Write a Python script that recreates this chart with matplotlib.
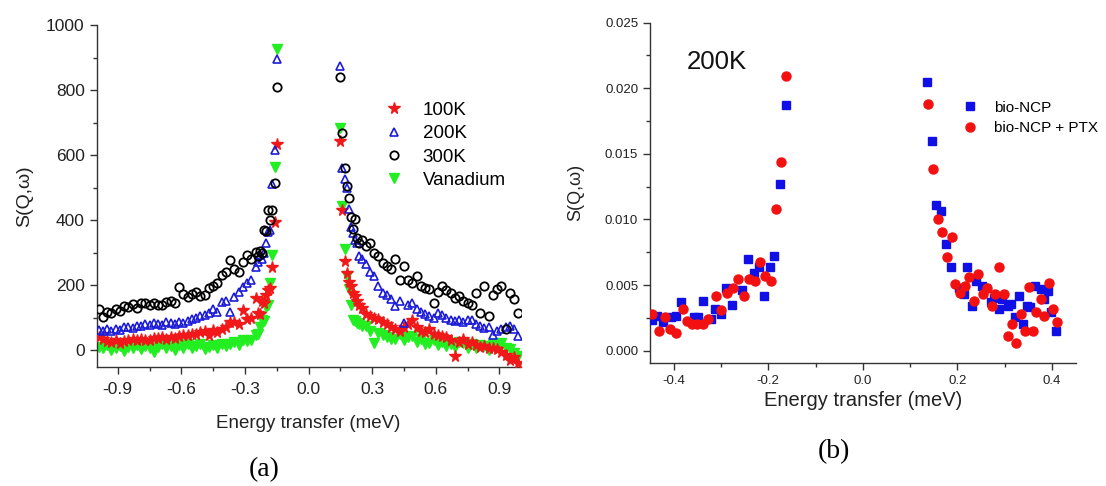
import matplotlib
matplotlib.use("Agg")
import matplotlib.pyplot as plt
from matplotlib.ticker import MultipleLocator, FormatStrFormatter

plt.rcParams['font.family'] = ['Liberation Sans', 'DejaVu Sans']

# ---------------- Panel (a) data ----------------
E_left = [-0.99, -0.97, -0.95, -0.93, -0.91, -0.89, -0.87, -0.85, -0.83, -0.81,
          -0.79, -0.77, -0.75, -0.73, -0.71, -0.69, -0.67, -0.65, -0.63, -0.61,
          -0.59, -0.57, -0.55, -0.53, -0.51, -0.49, -0.47, -0.45, -0.43, -0.41,
          -0.39, -0.37, -0.35, -0.33, -0.31, -0.29, -0.27, -0.25,
          -0.24, -0.23, -0.22, -0.21, -0.20, -0.19, -0.18, -0.17, -0.16, -0.15]
E_right = [0.15, 0.16, 0.17, 0.18, 0.19, 0.20, 0.21, 0.22, 0.23, 0.24,
           0.25, 0.27, 0.29, 0.31, 0.33, 0.35, 0.37, 0.39, 0.41, 0.43,
           0.45, 0.47, 0.49, 0.51, 0.53, 0.55, 0.57, 0.59, 0.61, 0.63,
           0.65, 0.67, 0.69, 0.71, 0.73, 0.75, 0.77, 0.79, 0.81, 0.83,
           0.85, 0.87, 0.89, 0.91, 0.93, 0.95, 0.97, 0.99]

s100_left = [41, 35, 28, 25, 30, 22, 28, 31, 35, 30,
             34, 30, 32, 36, 38, 41, 35, 40, 38, 42,
             45, 48, 50, 51, 55, 58, 45, 62, 55, 65,
             72, 87, 85, 80, 123, 95, 100, 160,
             113, 110, 150, 145, 170, 185, 190, 256, 395, 635]
s100_right = [643, 430, 274, 238, 210, 197, 176, 165, 150, 140,
              130, 110, 105, 99, 95, 85, 79, 70, 64, 60,
              70, 80, 94, 70, 60, 55, 64, 50, 45, 43,
              40, 30, -18, 25, 33, 20, 25, 15, 10, 12,
              5, 8, 2, -5, -15, -29, -20, -39]

s200_left = [62, 60, 65, 58, 66, 63, 70, 72, 68, 75,
             74, 80, 78, 84, 80, 77, 86, 82, 80, 85,
             82, 90, 95, 100, 105, 108, 115, 125, 118, 149,
             150, 118, 164, 180, 195, 205, 215, 255,
             272, 292, 280, 300, 330, 362, 370, 510, 615, 895]
s200_right = [874, 560, 525, 500, 433, 380, 361, 340, 330, 290,
              280, 264, 240, 228, 197, 176, 170, 156, 135, 150,
              84, 140, 146, 125, 118, 110, 105, 100, 115, 108,
              100, 94, 90, 94, 85, 94, 94, 80, 75, 69,
              72, 48, 60, 64, 70, 74, 65, 43]

s300_left = [128, 103, 118, 113, 125, 120, 135, 133, 142, 130,
             145, 144, 140, 146, 138, 138, 148, 150, 144, 193,
             172, 164, 174, 178, 165, 169, 190, 198, 205, 231,
             240, 277, 250, 241, 272, 292, 280, 302,
             290, 305, 300, 370, 365, 430, 400, 430, 515, 810]
s300_right = [840, 668, 560, 505, 468, 410, 372, 402, 346, 330,
              340, 320, 330, 300, 290, 269, 260, 248, 279, 217,
              258, 215, 207, 228, 197, 190, 187, 146, 180, 197,
              185, 176, 160, 166, 150, 146, 140, 176, 115, 197,
              105, 170, 187, 197, 64, 176, 156, 115]

van_left = [10, 5, 15, 0, 8, 12, -3, 10, 5, 15,
            2, 12, 8, -5, 10, 18, 6, 12, 0, 15,
            8, 20, 5, 12, 18, 3, 10, 15, 8, 20,
            12, 18, 25, 15, 30, 28, 31, 45,
            51, 70, 92, 90, 133, 140, 205, 292, 564, 925]
van_right = [684, 443, 310, 228, 187, 140, 94, 90, 84, 80,
             75, 74, 60, 23, 53, 45, 40, 35, 33, 50,
             30, 40, 43, 25, 35, 20, 23, 30, 15, 25,
             12, 20, 10, 25, 23, 8, 18, 5, 15, 12,
             0, 20, 10, 23, 5, 2, -10, -18]

labels_a = ["100K", "200K", "300K", "Vanadium"]

# ---------------- Panel (b) data ----------------
ncp_E = [-0.445, -0.435, -0.422, -0.406, -0.396, -0.385, -0.358, -0.349, -0.337, -0.321,
         -0.313, -0.300, -0.290, -0.277, -0.256, -0.243, -0.231, -0.219, -0.209, -0.197,
         -0.187, -0.175, -0.162,
         0.136, 0.147, 0.155, 0.166, 0.175, 0.186, 0.203, 0.214, 0.221, 0.231,
         0.240, 0.251, 0.260, 0.271, 0.277, 0.288, 0.295, 0.306, 0.313, 0.321,
         0.330, 0.339, 0.347, 0.354, 0.365, 0.376, 0.383, 0.391, 0.398, 0.408]
ncp_S = [0.00234, 0.00266, 0.00223, 0.00259, 0.00266, 0.00368, 0.00254, 0.00254, 0.00376, 0.00241,
         0.00317, 0.00279, 0.00477, 0.00350, 0.00462, 0.00698, 0.00596, 0.00635, 0.00419, 0.00635,
         0.00723, 0.01274, 0.01870,
         0.02048, 0.01599, 0.01112, 0.01066, 0.00817, 0.00642, 0.00482, 0.00431, 0.00635, 0.00343,
         0.00533, 0.00495, 0.00482, 0.00368, 0.00406, 0.00317, 0.00393, 0.00343, 0.00355, 0.00254,
         0.00419, 0.00203, 0.00343, 0.00330, 0.00495, 0.00470, 0.00393, 0.00457, 0.00292, 0.00152]

ptx_E = [-0.445, -0.431, -0.418, -0.407, -0.395, -0.381, -0.372, -0.361, -0.350, -0.339,
         -0.328, -0.310, -0.299, -0.288, -0.275, -0.263, -0.251, -0.241, -0.229, -0.218,
         -0.206, -0.195, -0.184, -0.173, -0.162,
         0.138, 0.149, 0.159, 0.168, 0.177, 0.188, 0.195, 0.206, 0.216, 0.225,
         0.234, 0.243, 0.253, 0.262, 0.273, 0.280, 0.288, 0.299, 0.306, 0.315,
         0.324, 0.334, 0.343, 0.352, 0.359, 0.367, 0.376, 0.383, 0.393, 0.402, 0.411]
ptx_S = [0.00279, 0.00152, 0.00259, 0.00165, 0.00132, 0.00317, 0.00228, 0.00203, 0.00203, 0.00208,
         0.00241, 0.00419, 0.00310, 0.00444, 0.00477, 0.00546, 0.00419, 0.00546, 0.00528, 0.00673,
         0.00571, 0.00533, 0.01079, 0.01434, 0.02094,
         0.01878, 0.01383, 0.01003, 0.00901, 0.00711, 0.00863, 0.00508, 0.00444, 0.00495, 0.00563,
         0.00381, 0.00584, 0.00431, 0.00482, 0.00343, 0.00431, 0.00635, 0.00431, 0.00114, 0.00203,
         0.00063, 0.00279, 0.00152, 0.00487, 0.00152, 0.00292, 0.00393, 0.00266, 0.00513, 0.00317, 0.00216]

labels_b = ["bio-NCP", "bio-NCP + PTX"]

# ---------------- Figure ----------------
W, H = 1106, 486
fig = plt.figure(figsize=(W / 100, H / 100), dpi=100)
fig.patch.set_facecolor('white')

axc = '#333333'

def style_axes(ax, fs):
    for s in ['top', 'right']:
        ax.spines[s].set_visible(False)
    for s in ['left', 'bottom']:
        ax.spines[s].set_color(axc)
        ax.spines[s].set_linewidth(1.0)
    ax.tick_params(which='both', direction='out', colors=axc, labelcolor='#222222',
                   labelsize=fs, width=1.0)
    ax.tick_params(which='major', length=5)
    ax.tick_params(which='minor', length=3)

# Panel (a)
ax1 = fig.add_axes([96.5 / W, 1 - 366.7 / H, 424 / W, (366.7 - 25) / H])
E_all = E_left + E_right
c_red, c_blue, c_green = '#f01818', '#1c1cd8', '#22ee22'
ax1.plot(E_all, van_left + van_right, linestyle='none', marker='v', markersize=7.5,
         color=c_green, markeredgecolor=c_green, label=labels_a[3], zorder=2)
ax1.plot(E_all, s100_left + s100_right, linestyle='none', marker='*', markersize=8.5,
         color=c_red, markeredgecolor=c_red, label=labels_a[0], zorder=3)
ax1.plot(E_all, s200_left + s200_right, linestyle='none', marker='^', markersize=6,
         markerfacecolor='none', markeredgecolor=c_blue, markeredgewidth=1.2,
         label=labels_a[1], zorder=4)
ax1.plot(E_all, s300_left + s300_right, linestyle='none', marker='o', markersize=6,
         markerfacecolor='none', markeredgecolor='black', markeredgewidth=1.3,
         label=labels_a[2], zorder=5)
ax1.set_xlim(-1.0, 1.0)
ax1.set_ylim(-51, 1000)
ax1.xaxis.set_major_locator(MultipleLocator(0.3))
ax1.xaxis.set_minor_locator(MultipleLocator(0.15))
ax1.yaxis.set_major_locator(MultipleLocator(200))
ax1.yaxis.set_minor_locator(MultipleLocator(100))
ax1.xaxis.set_major_formatter(FormatStrFormatter('%.1f'))
style_axes(ax1, 12.5)
ax1.tick_params(axis='x', which='major', pad=6)
ax1.set_xlabel("Energy transfer (meV)", fontsize=13.5, color='#222222', labelpad=13)
ax1.set_ylabel("S(Q,ω)", fontsize=14, color='#222222', labelpad=9)
h, l = ax1.get_legend_handles_labels()
order = [1, 2, 3, 0]
ax1.legend([h[i] for i in order], [l[i] for i in order], loc='upper left',
           bbox_to_anchor=(0.685, 0.775), frameon=False, fontsize=13.5,
           handlelength=0.7, handletextpad=1.2, labelspacing=0.33, borderaxespad=0,
           borderpad=0)

# Panel (b)
ax2 = fig.add_axes([650 / W, 1 - 363.3 / H, 425.7 / W, (363.3 - 22.5) / H])
ax2.plot(ncp_E, ncp_S, linestyle='none', marker='s', markersize=5.5, color='#1010e6',
         label=labels_b[0], zorder=3)
ax2.plot(ptx_E, ptx_S, linestyle='none', marker='o', markersize=6.5, color='#f21010',
         label=labels_b[1], zorder=4)
ax2.set_xlim(-0.45, 0.45)
ax2.set_ylim(-0.00095, 0.025)
ax2.xaxis.set_major_locator(MultipleLocator(0.2))
ax2.xaxis.set_minor_locator(MultipleLocator(0.1))
ax2.yaxis.set_major_locator(MultipleLocator(0.005))
ax2.yaxis.set_minor_locator(MultipleLocator(0.0025))
ax2.xaxis.set_major_formatter(FormatStrFormatter('%.1f'))
ax2.yaxis.set_major_formatter(FormatStrFormatter('%.3f'))
style_axes(ax2, 9.5)
ax2.set_xlabel("Energy transfer (meV)", fontsize=14.5, color='#222222', labelpad=2.5)
ax2.set_ylabel("S(Q,ω)", fontsize=13, color='#222222', labelpad=15)
ax2.text(0.087, 0.884, "200K", transform=ax2.transAxes, fontsize=18.5, color='#111111',
         va='center', ha='left')
ax2.legend(loc='upper left', bbox_to_anchor=(0.74, 0.771), frameon=False, fontsize=11,
           handlelength=0.65, handletextpad=1.25, labelspacing=0.45, borderaxespad=0,
           borderpad=0)

# Panel captions
fig.text(264 / W, 1 - 470 / H, "(a)", ha='center', va='center', fontsize=20,
         family=['Liberation Serif', 'DejaVu Serif'])
fig.text(834 / W, 1 - 452 / H, "(b)", ha='center', va='center', fontsize=20,
         family=['Liberation Serif', 'DejaVu Serif'])

fig.savefig("out.png", dpi=100, facecolor='white')
